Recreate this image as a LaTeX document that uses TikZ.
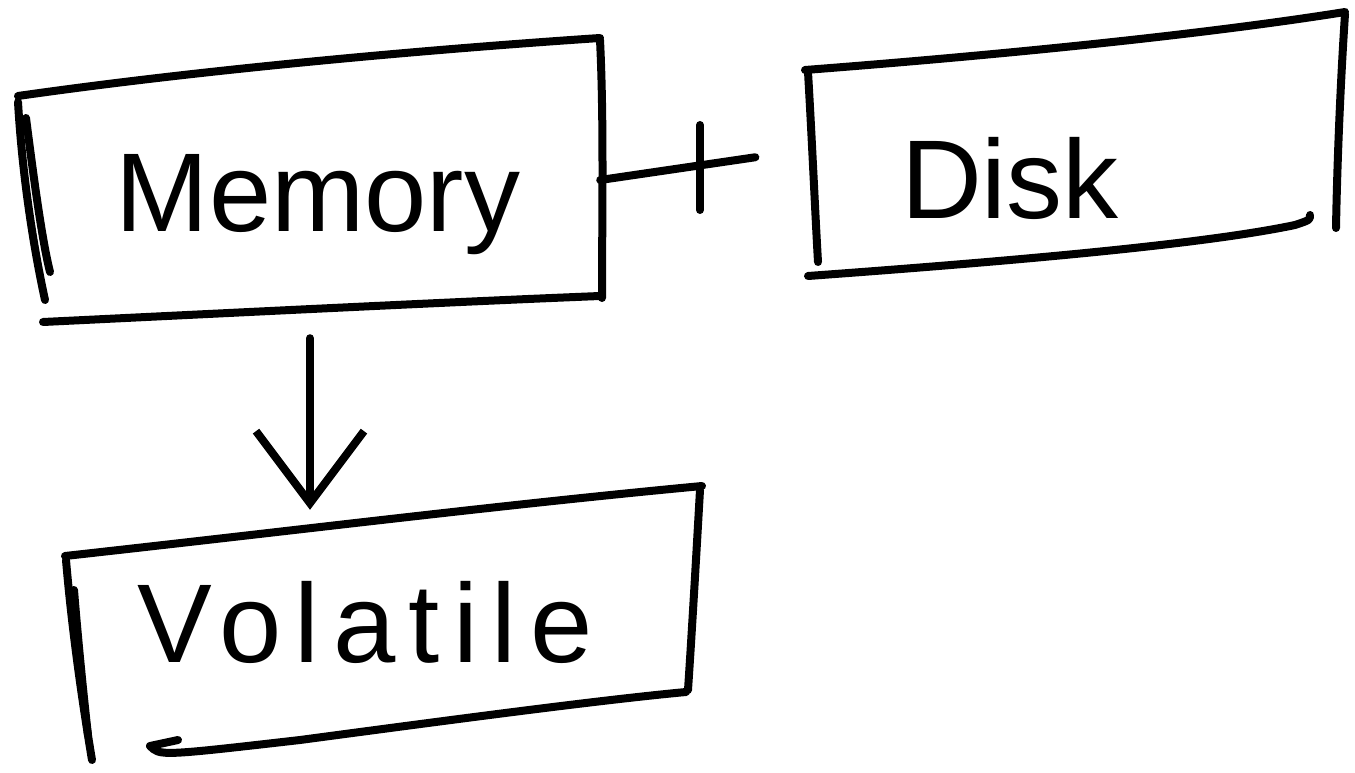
\documentclass[tikz,border=0pt]{standalone}
\usepackage{fontspec}
\setmainfont{Liberation Sans}
\usetikzlibrary{arrows.meta}
\begin{document}
\begin{tikzpicture}[x=1pt,y=-1pt,
  ink/.style={line width=8pt, line cap=round, line join=round},
  word/.style={font=\fontsize{112}{120}\selectfont, inner sep=0pt},
  boxarea/.style={draw=none, inner sep=0pt}]
\useasboundingbox (0,0) rectangle (1355,773);

% --- box areas holding the words ---
\node[boxarea, minimum width=580pt, minimum height=240pt] (mem) at (310,180) {};
\node[boxarea, minimum width=530pt, minimum height=200pt] (disk) at (1070,150) {};
\node[boxarea, minimum width=630pt, minimum height=200pt] (vol) at (385,625) {};

\node[word] (memtxt) at (318,205) {Memory};
\node[word] (disktxt) at (1010,178) {Disk};
\node[word, font=\fontsize{112}{120}\selectfont\addfontfeature{LetterSpace=12}] (voltxt) at (365,622) {Volatile};

% --- hand-drawn outline: Memory ---
\draw[ink] (18,96) .. controls (200,70) and (420,50) .. (600,38);
\draw[ink] (600,40) .. controls (604,120) and (602,220) .. (602,298);
\draw[ink] (43,322) .. controls (250,312) and (450,302) .. (600,296);
\draw[ink] (18,102) .. controls (22,170) and (32,240) .. (45,300);
\draw[ink] (26,118) .. controls (34,180) and (42,240) .. (50,272);

% --- hand-drawn outline: Disk ---
\draw[ink] (805,70) .. controls (1000,55) and (1200,35) .. (1345,12);
\draw[ink] (808,72) .. controls (812,140) and (815,210) .. (818,262);
\draw[ink] (1345,14) .. controls (1340,90) and (1337,170) .. (1336,228);
\draw[ink] (808,276) .. controls (1000,262) and (1200,245) .. (1295,225) .. controls (1310,220) .. (1310,215);

% --- hand-drawn outline: Volatile ---
\draw[ink] (65,556) .. controls (300,530) and (500,505) .. (702,486);
\draw[ink] (66,560) .. controls (72,630) and (82,700) .. (92,760);
\draw[ink] (74,590) .. controls (78,640) and (84,700) .. (88,735);
\draw[ink] (700,490) .. controls (696,560) and (692,630) .. (688,690);
\draw[ink] (178,740) -- (150,746) .. controls (160,756) .. (300,740) .. controls (450,720) and (600,700) .. (686,692);

% --- connector between Memory and Disk ---
\draw[ink, shorten >=50pt] (mem.east) -- (disk.west);
\coordinate (cross) at (700,170);
\draw[ink] ([yshift=-40pt]cross) -- ([yshift=45pt]cross);

% --- arrow from Memory down to Volatile ---
\draw[ink, shorten <=38pt, shorten >=15pt,
  -{Straight Barb[length=72pt,width=108pt,line width=8pt]}]
  (mem.south) -- (mem.south |- vol.north);
\end{tikzpicture}
\end{document}
